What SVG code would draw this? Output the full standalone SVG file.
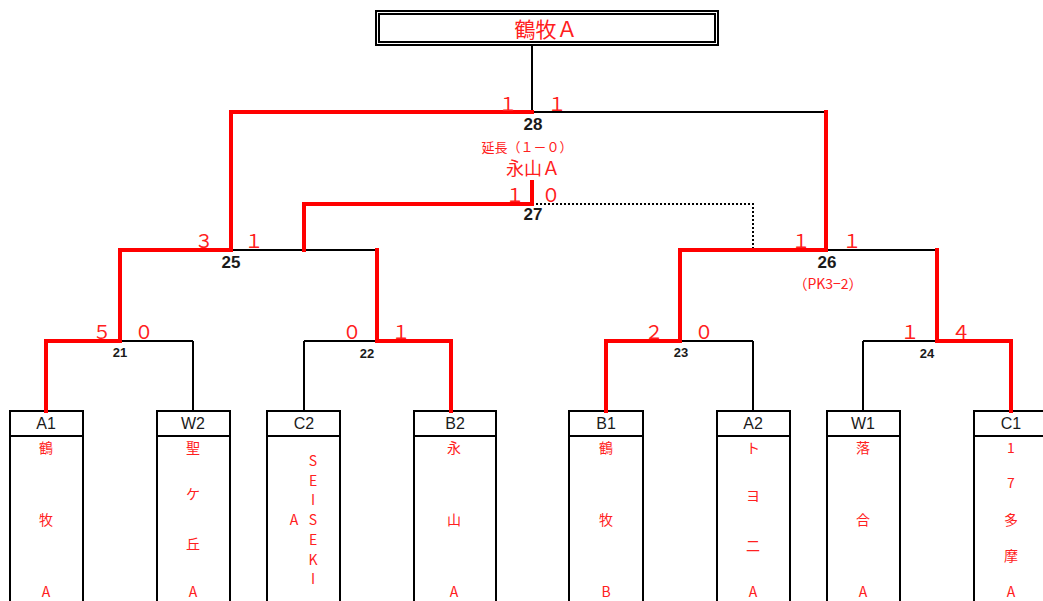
<svg xmlns="http://www.w3.org/2000/svg" width="1043" height="601" viewBox="0 0 1043 601">
<style>
text{font-family:"Noto Sans CJK JP","DejaVu Sans",sans-serif;text-anchor:middle;dominant-baseline:central}
.k{stroke:#000;stroke-width:2;fill:none}
.r{stroke:#FF0000;stroke-width:4;fill:none;stroke-linecap:square}
.d{stroke:#000;stroke-width:2;fill:none;stroke-dasharray:2 2}
.box{fill:#fff;stroke:#000;stroke-width:2}
.sc{fill:#FF2020;font-size:19px}
.num{fill:#1a1a1a;font-size:17px;font-weight:bold;font-family:"Liberation Sans",Arial,sans-serif}
.sn{fill:#1a1a1a;font-size:13px;font-weight:bold;font-family:"Liberation Sans",Arial,sans-serif}
.hd{fill:#1a1a1a;font-size:16px;font-family:"Liberation Sans",Arial,sans-serif}
.tm{fill:#FF2020;font-size:14px}
</style>
<g id="connectors">
<line class="k" x1="532" y1="45" x2="532" y2="112"/>
<line class="k" x1="532" y1="112" x2="826" y2="112"/>
<line class="k" x1="231" y1="250" x2="377" y2="250"/>
<line class="k" x1="826" y1="250" x2="937" y2="250"/>
<line class="k" x1="120" y1="341" x2="193" y2="341"/>
<line class="k" x1="193" y1="341" x2="193" y2="411"/>
<line class="k" x1="304" y1="341" x2="377" y2="341"/>
<line class="k" x1="304" y1="341" x2="304" y2="411"/>
<line class="k" x1="680" y1="341" x2="753" y2="341"/>
<line class="k" x1="753" y1="341" x2="753" y2="411"/>
<line class="k" x1="863" y1="341" x2="937" y2="341"/>
<line class="k" x1="863" y1="341" x2="863" y2="411"/>
<polyline class="d" points="532,204 753,204 753,250"/>
<polyline class="r" points="231,250 231,112 532,112"/>
<polyline class="r" points="826,250 826,112"/>
<polyline class="r" points="304,250 304,204 532,204 532,182"/>
<polyline class="r" points="46,411 46,341 120,341 120,250 231,250"/>
<polyline class="r" points="451,411 451,341 377,341 377,250"/>
<polyline class="r" points="606,411 606,341 680,341 680,250 826,250"/>
<polyline class="r" points="1011,411 1011,341 937,341 937,250"/>
</g>
<g id="champion">
<rect x="376" y="11" width="342" height="34" fill="#fff" stroke="#000" stroke-width="2"/>
<rect x="379" y="14" width="336" height="28" fill="none" stroke="#000" stroke-width="2"/>
<text x="546" y="28" fill="#FF2020" font-size="21">鶴牧Ａ</text>
</g>
<g id="labels">
<text class="sc" x="508" y="102">１</text>
<text class="sc" x="557" y="102">１</text>
<text class="num" x="533" y="124">28</text>
<text x="527" y="146" fill="#FF2020" font-size="13">延長（１－０）</text>
<text x="533" y="167" fill="#FF2020" font-size="18">永山Ａ</text>
<text class="sc" x="515" y="193">１</text>
<text class="sc" x="551" y="193">０</text>
<text class="num" x="533" y="214">27</text>
<text class="sc" x="204" y="239">３</text>
<text class="sc" x="254" y="239">１</text>
<text class="num" x="231" y="262">25</text>
<text class="sc" x="801" y="239">１</text>
<text class="sc" x="852" y="239">１</text>
<text class="num" x="827" y="262">26</text>
<text x="828" y="283" fill="#FF2020" font-size="14">（PK3−2）</text>
<text class="sc" x="102" y="330">５</text>
<text class="sc" x="144" y="330">０</text>
<text class="sn" x="120" y="352">21</text>
<text class="sc" x="352" y="330">０</text>
<text class="sc" x="401" y="330">１</text>
<text class="sn" x="367" y="353">22</text>
<text class="sc" x="654" y="330">２</text>
<text class="sc" x="704" y="330">０</text>
<text class="sn" x="681" y="352">23</text>
<text class="sc" x="910" y="330">１</text>
<text class="sc" x="961" y="330">４</text>
<text class="sn" x="927" y="353">24</text>
</g>
<g id="team-A1">
<rect class="box" x="10" y="411" width="73" height="200"/><line class="k" x1="10" y1="436" x2="83" y2="436"/>
<text class="hd" x="46" y="423">A1</text>
<text class="tm" x="46" y="447">鶴</text><text class="tm" x="46" y="519">牧</text><text class="tm" x="46" y="591">A</text>
</g>
<g id="team-W2">
<rect class="box" x="157" y="411" width="73" height="200"/><line class="k" x1="157" y1="436" x2="230" y2="436"/>
<text class="hd" x="193" y="423">W2</text>
<text class="tm" x="193" y="447">聖</text><text class="tm" x="193" y="493">ケ</text><text class="tm" x="193" y="543">丘</text><text class="tm" x="193" y="591">A</text>
</g>
<g id="team-C2">
<rect class="box" x="267" y="411" width="73" height="200"/><line class="k" x1="267" y1="436" x2="340" y2="436"/>
<text class="hd" x="304" y="423">C2</text>
<text class="tm" x="313" y="460">S</text><text class="tm" x="313" y="480">E</text><text class="tm" x="313" y="499">I</text><text class="tm" x="313" y="519">S</text><text class="tm" x="313" y="539">E</text><text class="tm" x="313" y="559">K</text><text class="tm" x="313" y="578">I</text>
<text class="tm" x="294" y="519">A</text>
</g>
<g id="team-B2">
<rect class="box" x="414" y="411" width="82" height="200"/><line class="k" x1="414" y1="436" x2="496" y2="436"/>
<text class="hd" x="455" y="423">B2</text>
<text class="tm" x="454" y="447">永</text><text class="tm" x="454" y="519">山</text><text class="tm" x="454" y="591">A</text>
</g>
<g id="team-B1">
<rect class="box" x="569" y="411" width="74" height="200"/><line class="k" x1="569" y1="436" x2="643" y2="436"/>
<text class="hd" x="606" y="423">B1</text>
<text class="tm" x="606" y="447">鶴</text><text class="tm" x="606" y="519">牧</text><text class="tm" x="606" y="591">B</text>
</g>
<g id="team-A2">
<rect class="box" x="717" y="411" width="73" height="200"/><line class="k" x1="717" y1="436" x2="790" y2="436"/>
<text class="hd" x="753" y="423">A2</text>
<text class="tm" x="753" y="447">ト</text><text class="tm" x="753" y="495">ヨ</text><text class="tm" x="753" y="545">二</text><text class="tm" x="753" y="591">A</text>
</g>
<g id="team-W1">
<rect class="box" x="827" y="411" width="73" height="200"/><line class="k" x1="827" y1="436" x2="900" y2="436"/>
<text class="hd" x="863" y="423">W1</text>
<text class="tm" x="863" y="447">落</text><text class="tm" x="863" y="519">合</text><text class="tm" x="863" y="591">A</text>
</g>
<g id="team-C1">
<rect class="box" x="974" y="411" width="80" height="200"/><line class="k" x1="974" y1="436" x2="1054" y2="436"/>
<text class="hd" x="1011" y="423">C1</text>
<text class="tm" x="1011" y="447">1</text><text class="tm" x="1011" y="482">7</text><text class="tm" x="1011" y="519">多</text><text class="tm" x="1011" y="555">摩</text><text class="tm" x="1011" y="591">A</text>
</g>
<polyline class="r" points="46,411 46,400"/>
<polyline class="r" points="451,411 451,400"/>
<polyline class="r" points="606,411 606,400"/>
<polyline class="r" points="1011,411 1011,400"/>
</svg>
